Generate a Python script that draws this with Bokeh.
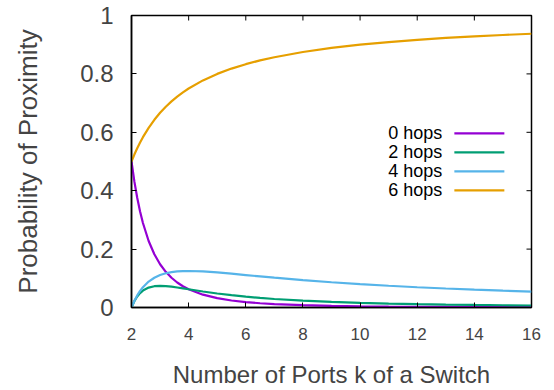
import math
from bokeh.plotting import figure
from bokeh.models import (Range1d, FixedTicker, CustomJSTickFormatter, Label)
from bokeh.embed import file_html
from bokeh.resources import INLINE

# k values (number of ports)
k = [2, 2.1, 2.2, 2.3, 2.4, 2.6, 2.8, 3, 3.2, 3.4, 3.6, 3.8, 4, 4.5, 5, 5.5, 6, 6.5, 7,
     8, 9, 10, 11, 12, 13, 14, 15, 16]
hops0 = [0.5, 0.4319, 0.3757, 0.3288, 0.2894, 0.2276, 0.1822, 0.1481, 0.1221, 0.1018,
         0.0857, 0.0729, 0.0625, 0.0439, 0.0320, 0.0240, 0.0185, 0.0146, 0.0117,
         0.0078, 0.0055, 0.0040, 0.0030, 0.0023, 0.0018, 0.0015, 0.0012, 0.0010]
hops2 = [0.0, 0.0216, 0.0376, 0.0493, 0.0579, 0.0683, 0.0729, 0.0741, 0.0732, 0.0712,
         0.0686, 0.0656, 0.0625, 0.0549, 0.0480, 0.0421, 0.0370, 0.0328, 0.0292,
         0.0234, 0.0192, 0.0160, 0.0135, 0.0116, 0.0100, 0.0087, 0.0077, 0.0068]
hops4 = [0.0, 0.0227, 0.0413, 0.0567, 0.0694, 0.0888, 0.1020, 0.1111, 0.1172, 0.1211,
         0.1235, 0.1247, 0.1250, 0.1235, 0.1200, 0.1157, 0.1111, 0.1065, 0.1020,
         0.0938, 0.0864, 0.0800, 0.0744, 0.0694, 0.0651, 0.0612, 0.0578, 0.0547]
hops6 = [0.5, 0.5238, 0.5455, 0.5652, 0.5833, 0.6154, 0.6429, 0.6667, 0.6875, 0.7059,
         0.7222, 0.7368, 0.7500, 0.7778, 0.8000, 0.8182, 0.8333, 0.8462, 0.8571,
         0.8750, 0.8889, 0.9000, 0.9091, 0.9167, 0.9231, 0.9286, 0.9333, 0.9375]

series_labels = ["0 hops", "2 hops", "4 hops", "6 hops"]
series_values = [hops0, hops2, hops4, hops6]
colors = ["#9400d3", "#009e73", "#56b4e9", "#e69f00"]

x_ticks = [2, 4, 6, 8, 10, 12, 14, 16]
y_ticks = [0, 0.2, 0.4, 0.6, 0.8, 1.0]
X_MIN, X_MAX = 2, 16
Y_MIN, Y_MAX = 0, 1

FONT = "Liberation Sans"

p = figure(frame_width=400, frame_height=292, output_backend="svg", toolbar_location=None,
           x_range=Range1d(X_MIN, X_MAX), y_range=Range1d(Y_MIN, Y_MAX),
           min_border_left=131, min_border_right=15, min_border_top=15, min_border_bottom=75)
p.background_fill_color = "white"
p.border_fill_color = "white"
p.grid.visible = False
p.outline_line_color = "black"
p.outline_line_width = 1.5
p.outline_line_alpha = 1

for vals, c in zip(series_values, colors):
    p.line(k, vals, line_color=c, line_width=2.2)

# mirror ticks on top and right edges (half outside is clipped by the frame)
p.scatter(x=x_ticks, y=[Y_MAX] * len(x_ticks), marker="dash", size=10, angle=math.pi / 2,
          line_color="black", line_width=1)
p.scatter(x=[X_MAX] * len(y_ticks), y=y_ticks, marker="dash", size=10,
          line_color="black", line_width=1)

# legend (label left, line sample right)
leg_x_text = 12.88
leg_x0, leg_x1 = 13.3, 15.05
leg_y = [0.596, 0.531, 0.466, 0.401]
for lab, c, yy in zip(series_labels, colors, leg_y):
    p.add_layout(Label(x=leg_x_text, y=yy, text=lab, text_align="right",
                       text_baseline="middle", text_font=FONT, text_font_size="18px",
                       text_color="black"))
    p.segment(x0=[leg_x0], y0=[yy], x1=[leg_x1], y1=[yy], line_color=c, line_width=2.2)

yfmt = CustomJSTickFormatter(code="return tick.toFixed(1).replace(/\\.0$/, '');")

def style(ax):
    ax.major_tick_in = 5
    ax.major_tick_out = 0
    ax.minor_tick_in = 0
    ax.minor_tick_out = 0
    ax.axis_line_color = "black"
    ax.axis_line_width = 1.5
    ax.major_tick_line_color = "black"
    ax.major_tick_line_width = 1

xa = p.xaxis[0]
xa.ticker = FixedTicker(ticks=x_ticks)
style(xa)
xa.major_label_text_font = FONT
xa.major_label_text_font_size = "17px"
xa.major_label_standoff = 20
xa.axis_label = "Number of Ports k of a Switch"
xa.axis_label_text_font = FONT
xa.axis_label_text_font_size = "24px"
xa.axis_label_text_font_style = "normal"
xa.axis_label_standoff = 18

ya = p.yaxis[0]
ya.ticker = FixedTicker(ticks=y_ticks)
ya.formatter = yfmt
style(ya)
ya.major_label_text_font = FONT
ya.major_label_text_font_size = "24px"
ya.major_label_standoff = 18
ya.axis_label = "Probability of Proximity"
ya.axis_label_text_font = FONT
ya.axis_label_text_font_size = "26px"
ya.axis_label_text_font_style = "normal"
ya.axis_label_standoff = 34

open("out.html", "w").write(file_html(p, INLINE))
